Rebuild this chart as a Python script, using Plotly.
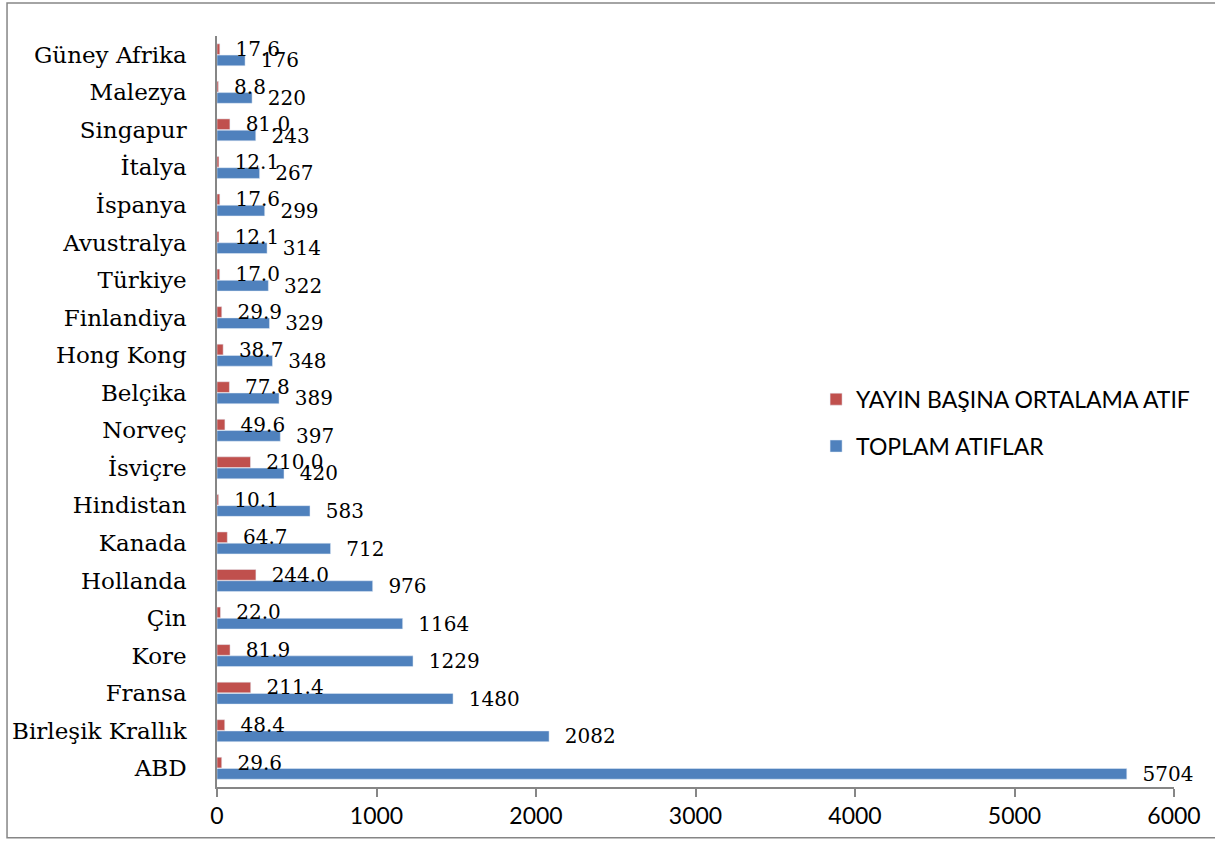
import plotly.graph_objects as go

countries = ["ABD", "Birleşik Krallık", "Fransa", "Kore", "Çin", "Hollanda", "Kanada",
             "Hindistan", "İsviçre", "Norveç", "Belçika", "Hong Kong", "Finlandiya",
             "Türkiye", "Avustralya", "İspanya", "İtalya", "Singapur", "Malezya", "Güney Afrika"]
toplam_atiflar = [5704, 2082, 1480, 1229, 1164, 976, 712, 583, 420, 397, 389, 348, 329,
                  322, 314, 299, 267, 243, 220, 176]
ortalama_atif = [29.6, 48.4, 211.4, 81.9, 22.0, 244.0, 64.7, 10.1, 210.0, 49.6, 77.8, 38.7,
                 29.9, 17.0, 12.1, 17.6, 12.1, 81.0, 8.8, 17.6]
x_ticks = [0, 1000, 2000, 3000, 4000, 5000, 6000]

BLUE = "#4F81BD"
RED = "#C0504D"
AXIS = "#868686"
LABEL_FONT = dict(family="DejaVu Serif", size=20, color="black")

fig = go.Figure()
fig.add_trace(go.Bar(
    y=countries, x=toplam_atiflar, orientation="h", name="TOPLAM ATIFLAR",
    marker=dict(color=BLUE), legendgroup="b", legendrank=2,
    text=toplam_atiflar, texttemplate="\u00a0\u00a0%{x}", textposition="outside",
    textfont=LABEL_FONT, cliponaxis=False, constraintext="none",
))
fig.add_trace(go.Bar(
    y=countries, x=ortalama_atif, orientation="h", name="YAYIN BAŞINA ORTALAMA ATIF",
    marker=dict(color=RED), legendgroup="a", legendrank=1,
    text=ortalama_atif, texttemplate="\u00a0\u00a0%{x:.1f}", textposition="outside",
    textfont=LABEL_FONT, cliponaxis=False, constraintext="none",
))

fig.update_layout(
    width=1215, height=841,
    margin=dict(l=217, r=41, t=36, b=52),
    paper_bgcolor="white", plot_bgcolor="white",
    barmode="group", bargap=0.4, bargroupgap=0.05,
    showlegend=True,
    legend=dict(x=0.626, y=0.545, xanchor="left", yanchor="top",
                font=dict(family="Lato", size=23, color="black"),
                tracegroupgap=14, bgcolor="rgba(0,0,0,0)"),
    xaxis=dict(range=[0, 6000], tickvals=x_ticks, ticks="outside", ticklen=8,
               tickcolor=AXIS, tickwidth=1.5, showline=True, linecolor=AXIS, linewidth=1.5,
               showgrid=False, zeroline=False,
               tickfont=dict(family="Lato", size=23, color="black")),
    yaxis=dict(type="category", categoryorder="array", categoryarray=countries,
               showline=True, linecolor=AXIS, linewidth=1.5, ticks="",
               showgrid=False, zeroline=False, ticklabelstandoff=24,
               tickfont=dict(family="DejaVu Serif", size=23, color="black")),
    shapes=[dict(type="rect", xref="paper", yref="paper",
                 x0=-0.2194, x1=1.08, y0=-0.0677, y1=1.0438,
                 line=dict(color=AXIS, width=1.5), fillcolor="rgba(0,0,0,0)", layer="below")],
)

fig.write_html("out.html", config={"displayModeBar": False},
               post_script="document.body.style.margin='0';document.body.style.overflow='hidden';")
